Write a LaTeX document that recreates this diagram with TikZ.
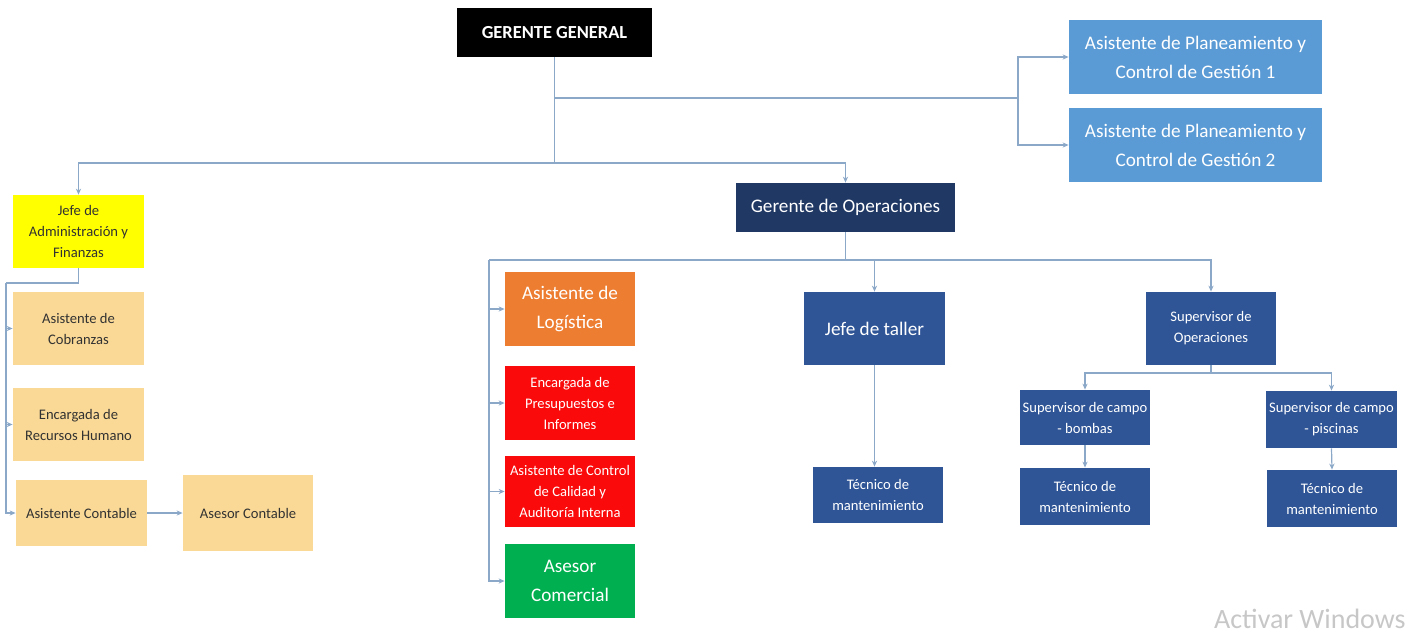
\documentclass[tikz,border=0pt]{standalone}
\usepackage{fontspec}
\setmainfont{Carlito}
\usetikzlibrary{arrows.meta}
\definecolor{lineC}{RGB}{140,168,200}
\definecolor{lorange}{RGB}{250,217,150}
\definecolor{apblue}{RGB}{91,155,213}
\definecolor{navy}{RGB}{32,56,100}
\definecolor{mblue}{RGB}{47,85,151}
\definecolor{orng}{RGB}{237,125,49}
\definecolor{rred}{RGB}{250,10,10}
\definecolor{grn}{RGB}{0,176,80}
\definecolor{ylw}{RGB}{255,255,0}
\definecolor{txtd}{RGB}{50,50,50}
\tikzset{
  box/.style={draw=none, align=center, inner sep=1pt, text=white},
  small/.style={font=\fontsize{7.3}{10.5}\selectfont},
  big/.style={font=\fontsize{9.6}{14.5}\selectfont},
  conn/.style={draw=lineC, line width=0.6pt},
  arr/.style={conn, -{Stealth[length=3pt,width=2.6pt]}},
}
\begin{document}
\begin{tikzpicture}[x=0.5pt,y=-0.5pt]
\useasboundingbox (0,0) rectangle (1424,634);
% top
\node[box, fill=black, minimum width=97.5pt, minimum height=24.5pt, font=\fontsize{9.2}{12}\selectfont\bfseries] (gg) at (554.5,32.5) {GERENTE GENERAL};
\node[box, big, fill=apblue, minimum width=126.5pt, minimum height=37pt] (ap1) at (1195.5,57) {Asistente de Planeamiento y\\Control de Gestión 1};
\node[box, big, fill=apblue, minimum width=126.5pt, minimum height=37pt] (ap2) at (1195.5,145) {Asistente de Planeamiento y\\Control de Gestión 2};
\node[box, big, fill=navy, minimum width=109.5pt, minimum height=24.5pt] (go) at (845.5,207.5) {Gerente de Operaciones};
% left column
\node[box, small, text=txtd, fill=ylw, minimum width=65.5pt, minimum height=36.5pt] (jaf) at (78.5,231.5) {Jefe de\\Administración y\\Finanzas};
\node[box, small, text=txtd, fill=lorange, minimum width=65.5pt, minimum height=36.5pt] (cob) at (78.5,328.5) {Asistente de\\Cobranzas};
\node[box, small, text=txtd, fill=lorange, minimum width=65.5pt, minimum height=36.5pt] (rrhh) at (78.5,424.5) {Encargada de\\Recursos Humano};
\node[box, small, text=txtd, fill=lorange, minimum width=65.5pt, minimum height=33pt] (acont) at (81.5,513) {Asistente Contable};
\node[box, small, text=txtd, fill=lorange, minimum width=65pt, minimum height=38pt] (ascont) at (248,513) {Asesor Contable};
% middle column
\node[box, big, fill=orng, minimum width=65pt, minimum height=37pt] (log) at (570,309) {Asistente de\\Logística};
\node[box, small, fill=rred, minimum width=65pt, minimum height=37pt] (pres) at (570,403) {Encargada de\\Presupuestos e\\Informes};
\node[box, small, fill=rred, minimum width=65pt, minimum height=35.5pt] (acc) at (570,491.5) {Asistente de Control\\de Calidad y\\Auditoría Interna};
\node[box, big, fill=grn, minimum width=65pt, minimum height=37pt] (acom) at (570,581) {Asesor\\Comercial};
% right
\node[box, big, fill=mblue, minimum width=70.5pt, minimum height=36.5pt] (jt) at (874.5,328.5) {Jefe de taller};
\node[box, small, fill=mblue, minimum width=65pt, minimum height=28pt] (tm1) at (878,495) {Técnico de\\mantenimiento};
\node[box, small, fill=mblue, minimum width=65pt, minimum height=36.5pt] (so) at (1211,328.5) {Supervisor de\\Operaciones};
\node[box, small, fill=mblue, minimum width=65pt, minimum height=27.5pt] (scb) at (1085,417.5) {Supervisor de campo\\- bombas};
\node[box, small, fill=mblue, minimum width=65.5pt, minimum height=28.5pt] (scp) at (1331.5,419.5) {Supervisor de campo\\- piscinas};
\node[box, small, fill=mblue, minimum width=65pt, minimum height=28.5pt] (tm2) at (1085,496.5) {Técnico de\\mantenimiento};
\node[box, small, fill=mblue, minimum width=65pt, minimum height=28.5pt] (tm3) at (1332,498.5) {Técnico de\\mantenimiento};
\node[text=black!22, font=\fontsize{14}{16}\selectfont, anchor=east, inner sep=0pt] (aw) at (1406,619) {Activar Windows};
% connectors
\coordinate (j1) at (554.5,163);
\coordinate (j2) at (554.5,98);
\coordinate (j3) at (1018,98);
\draw[conn] (gg.south) -- (j1);
\draw[arr] (j1) -| (jaf.north);
\draw[arr] (j1) -| (go.north);
\draw[conn] (j2) -- (j3);
\draw[arr] (j3) |- (ap1.west);
\draw[arr] (j3) |- (ap2.west);
% left
\coordinate (l1) at (78.5,283);
\coordinate (l2) at (6,283);
\draw[conn] (jaf.south) -- (l1) -- (l2);
\draw[arr] (l2) |- (cob.west);
\draw[arr] (l2) |- (rrhh.west);
\draw[arr] (l2) |- (acont.west);
\draw[arr] (acont.east) -- (ascont.west);
% middle
\coordinate (m1) at (845.5,260);
\coordinate (m2) at (489,260);
\draw[conn] (go.south) -- (m1) -- (m2);
\draw[arr] (m2) |- (log.west);
\draw[arr] (m2) |- (pres.west);
\draw[arr] (m2) |- (acc.west);
\draw[arr] (m2) |- (acom.west);
\draw[arr] (m1) -| (jt.north);
\draw[arr] (m1) -| (so.north);
\draw[arr] (jt.south) -- (jt.south |- tm1.north);
% supervisor
\coordinate (s1) at (1211,373);
\draw[conn] (so.south) -- (s1);
\draw[arr] (s1) -| (scb.north);
\draw[arr] (s1) -| (scp.north);
\draw[arr] (scb.south) -- (tm2.north);
\draw[arr] (scp.south) -- (tm3.north);
\end{tikzpicture}
\end{document}
